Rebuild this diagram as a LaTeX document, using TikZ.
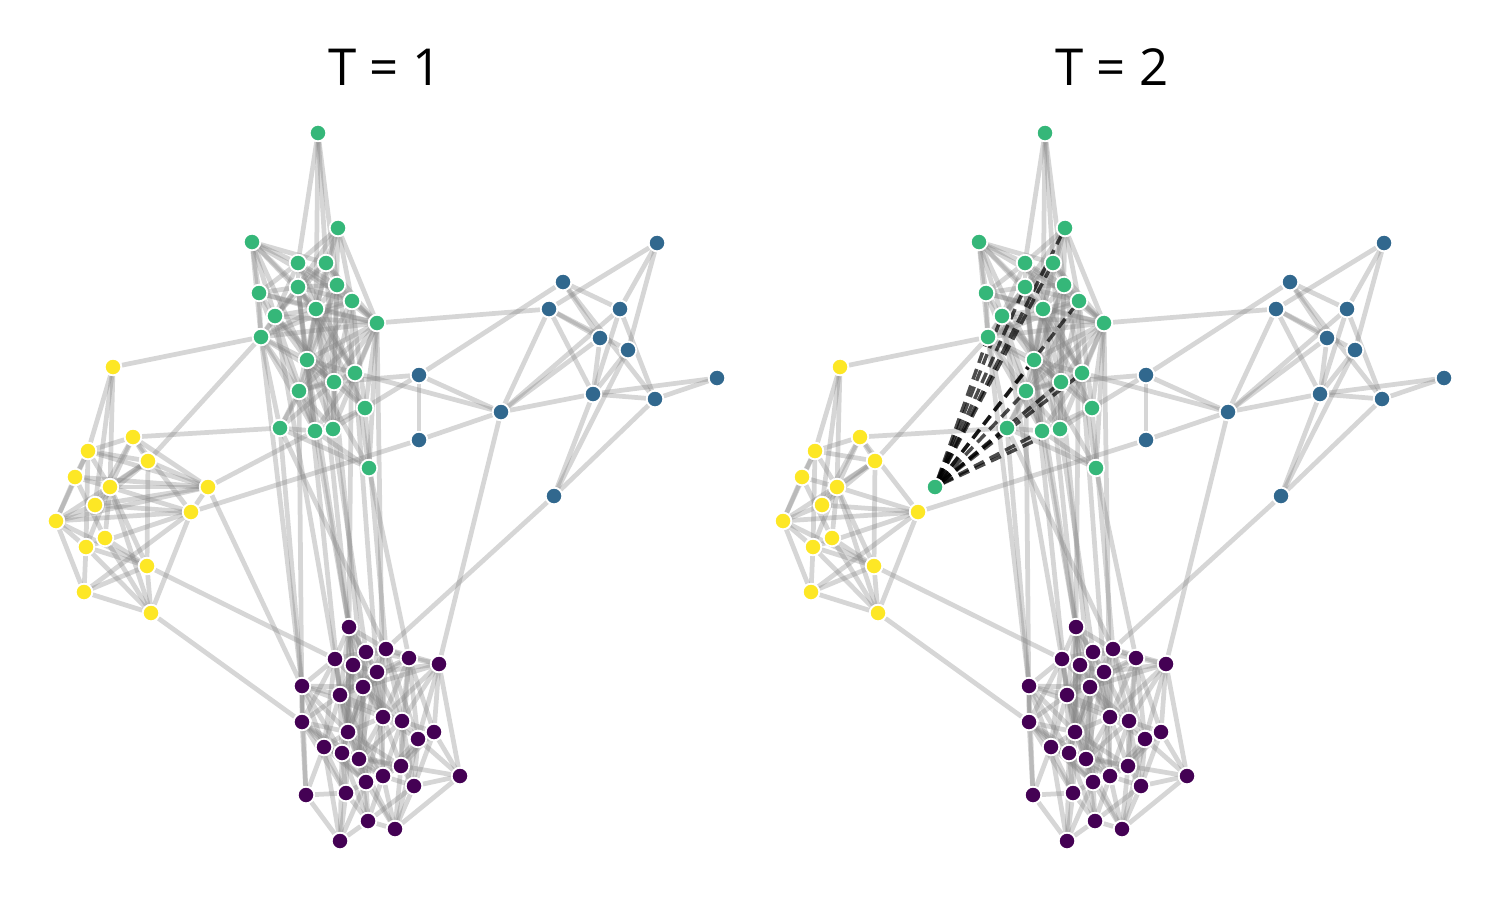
\documentclass[tikz,border=0pt]{standalone}
\usepackage{fontspec}
\setmainfont{Open Sans}
\usetikzlibrary{backgrounds}
\definecolor{vyellow}{HTML}{FDE725}
\definecolor{vgreen}{HTML}{35B779}
\definecolor{vblue}{HTML}{31688E}
\definecolor{vpurple}{HTML}{440154}
\tikzset{
  dot/.style={circle, draw=white, line width=0.35mm, inner sep=0pt, minimum size=3.3mm},
  link/.style={draw=black!50, opacity=0.32, line width=0.95mm},
  newlink/.style={draw=black, opacity=0.7, line width=0.7mm, dash pattern=on 2.2mm off 1.3mm},
  title/.style={font=\fontsize{29}{35}\selectfont}
}

% one panel of the network: #1 name prefix, #2 x offset, #3 colour of node y7
\newcommand\network[3]{%
  \begin{scope}[shift={(#2,0)}]
    \foreach \n/\x/\y in {g1/318/133, g2/338/228, g3/252/242, g4/298/263, g5/326/263,
        g6/259/293, g7/298/287, g8/337/285, g9/352/301, g10/316/309, g11/275/316,
        g12/377/323, g13/261/337, g14/307/360, g15/355/373, g16/334/382, g17/299/391,
        g18/365/408, g19/280/428, g20/315/431, g21/333/429, g22/369/468}
      \node[dot, fill=vgreen] (#1\n) at (\x,\y) {};
    \foreach \n/\x/\y in {y1/113/367, y2/133/437, y3/88/451, y4/148/461, y5/75/477,
        y6/110/487, y8/95/505, y9/191/512, y10/56/521, y11/105/538, y12/86/547,
        y13/147/566, y14/84/592, y15/151/613}
      \node[dot, fill=vyellow] (#1\n) at (\x,\y) {};
    \node[dot, fill=#3] (#1y7) at (208,487) {};
    \foreach \n/\x/\y in {b1/657/243, b2/563/282, b3/549/309, b4/620/309, b5/600/338,
        b6/628/350, b7/419/375, b8/717/378, b9/593/394, b10/655/399, b11/501/412,
        b12/419/440, b13/554/496}
      \node[dot, fill=vblue] (#1\n) at (\x,\y) {};
    \foreach \n/\x/\y in {p1/349/627, p2/335/659, p3/366/652, p4/386/649, p5/353/665,
        p6/409/658, p7/439/664, p8/377/672, p9/302/686, p10/363/687, p11/340/695,
        p12/302/722, p13/383/717, p14/402/721, p15/348/732, p16/434/732, p17/418/739,
        p18/324/747, p19/342/753, p20/359/759, p21/401/766, p22/383/776, p23/460/776,
        p24/366/782, p25/414/786, p26/306/795, p27/346/793, p28/368/821, p29/395/829,
        p30/340/841}
      \node[dot, fill=vpurple] (#1\n) at (\x,\y) {};
    \begin{pgfonlayer}{background}
      % green community
      \foreach \a/\bs in {g1/{g4,g5,g8,g10}, g2/{g4,g5,g7,g9,g10,g12,g16},
          g3/{g4,g5,g6,g7,g9,g10,g11,g13,g14}, g4/{g6,g7,g8,g10,g11,g12,g15},
          g5/{g7,g8,g9,g11,g12,g14,g16}, g6/{g7,g10,g11,g12,g13,g17},
          g7/{g8,g9,g10,g11,g13,g14,g15,g18,g20}, g8/{g9,g10,g12,g14,g15,g17,g21},
          g9/{g10,g12,g13,g16,g18,g19}, g10/{g11,g12,g13,g14,g15,g16,g17,g21},
          g11/{g12,g13,g14,g16,g18,g20}, g12/{g13,g14,g15,g16,g17,g18,g21,g22},
          g13/{g14,g16,g17,g19,g20}, g14/{g15,g16,g18,g20,g21,g22},
          g15/{g16,g17,g20,g22}, g16/{g17,g19,g21}, g17/{g19,g20,g21},
          g18/{g20,g21}, g19/{g20,g22}, g20/{g21,g22}}
        \foreach \b in \bs \draw[link] (#1\a) -- (#1\b);
      % yellow community
      \foreach \a/\bs in {y1/{y3,y6,y8}, y2/{y3,y4,y6,y8,y9}, y3/{y4,y5,y6,y10,y12},
          y4/{y6,y8,y10,y13}, y5/{y6,y10,y11}, y6/{y8,y9,y11,y12,y13,y15},
          y8/{y9,y10}, y10/{y9,y12,y13,y14}, y11/{y13,y15}, y12/{y9,y13,y14,y15},
          y13/{y14,y15}, y14/{y9,y15}, y9/{y15}}
        \foreach \b in \bs \draw[link] (#1\a) -- (#1\b);
      % blue community
      \foreach \a/\bs in {b1/{b3,b4,b6}, b2/{b4,b5,b7,b10}, b3/{b5,b6,b9,b11},
          b4/{b9,b10,b11}, b5/{b9,b11}, b6/{b9,b13}, b9/{b8,b10,b11,b13},
          b10/{b8,b13}, b7/{b11,b12}, b12/{b11}}
        \foreach \b in \bs \draw[link] (#1\a) -- (#1\b);
      % purple community
      \foreach \a/\bs in {p1/{p2,p3,p5,p8,p10,p11,p13,p15,p4}, p2/{p3,p5,p9,p10,p11,p12,p18,p15},
          p3/{p4,p5,p6,p8,p10,p13,p20,p11}, p4/{p6,p7,p8,p13,p14,p17,p10},
          p5/{p8,p10,p11,p13,p15,p19,p20}, p6/{p7,p8,p13,p14,p16,p17,p21,p10},
          p7/{p10,p13,p14,p16,p17,p23,p8}, p8/{p10,p13,p14,p15,p20,p22,p11},
          p9/{p10,p11,p12,p13,p15,p18,p26,p19}, p10/{p11,p13,p15,p19,p20,p24,p14},
          p11/{p12,p14,p15,p18,p19,p20,p22}, p12/{p15,p18,p19,p24,p26,p27,p20},
          p13/{p14,p15,p17,p20,p21,p22,p24}, p14/{p16,p17,p21,p22,p25,p20},
          p15/{p18,p19,p20,p22,p24,p27,p21}, p16/{p17,p21,p23,p25,p22},
          p17/{p21,p22,p23,p25,p29}, p18/{p19,p24,p26,p27,p30,p22},
          p19/{p20,p24,p27,p28,p30,p21}, p20/{p21,p22,p24,p28,p29}, p21/{p22,p23,p25,p29},
          p22/{p24,p25,p28,p29}, p23/{p25,p29}, p24/{p27,p28,p29,p30},
          p25/{p28,p29}, p26/{p27,p30}, p27/{p28,p30}, p28/{p29,p30}}
        \foreach \b in \bs \draw[link] (#1\a) -- (#1\b);
      % between communities
      \foreach \a/\b in {y1/g13, y2/g19, y4/g13, y9/b12, y13/p2, y15/p12,
          g12/b3, g15/b11, g18/b7, g16/b7, b11/p7, b13/p4, g22/p6,
          g13/p9, g11/p2, g17/p12, g19/p9, g19/p4, g14/p1, g20/p1, g21/p3,
          g16/p10, g10/p5, g18/p4, g15/p8, g12/p13, g7/p11, g9/p15}
        \draw[link] (#1\a) -- (#1\b);
    \end{pgfonlayer}
  \end{scope}}

\begin{document}
\begin{tikzpicture}[x=0.2mm, y=-0.2mm]
  \useasboundingbox (0,0) rectangle (1500,900);

  \node[title] (t1) at (385,67) {T = 1};
  \node[title] (t2) at (1112,67) {T = 2};

  \network{L}{0}{vyellow}
  \network{R}{727}{vgreen}

  % old ties of the moving node
  \begin{pgfonlayer}{background}
    \foreach \b in {y2,y3,y4,y5,y6,y8,y9,y10,g20,p9}
      \draw[link] (Ly7) -- (L\b);
    % new ties at T = 2
    \foreach \b in {g2,g5,g7,g9,g11,g13,g14,g15,g16,g17,g19,g20,g21}
      \draw[newlink] (Ry7) -- (R\b);
  \end{pgfonlayer}
\end{tikzpicture}
\end{document}
